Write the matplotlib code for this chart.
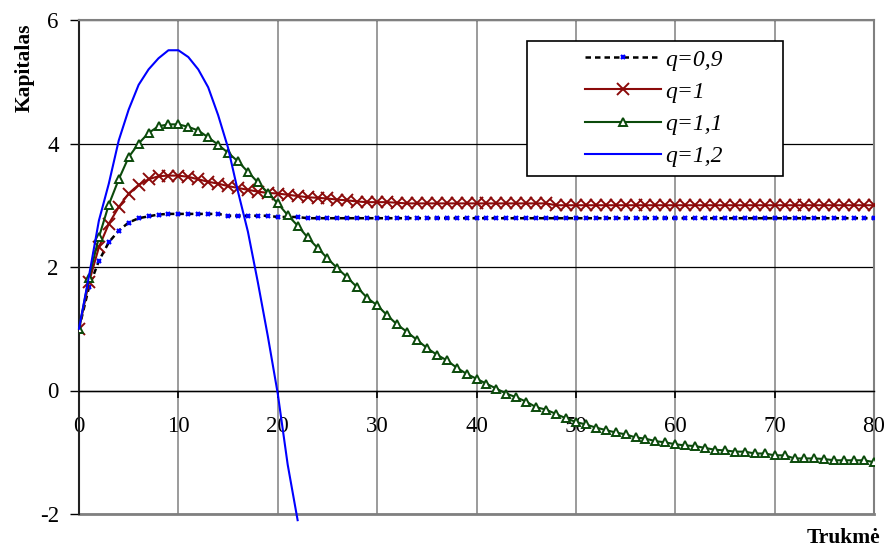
import numpy as np
import matplotlib.pyplot as plt
from matplotlib.patches import Rectangle

plt.rcParams['font.family'] = ['Liberation Serif', 'DejaVu Serif']
plt.rcParams['axes.unicode_minus'] = False

# Series (x = 0, 1, 2, ...)
q09 = [1.0, 1.67, 2.1, 2.4, 2.59, 2.72, 2.79, 2.82, 2.85, 2.86,
       2.86, 2.86, 2.86, 2.86, 2.86, 2.83, 2.83, 2.83, 2.83, 2.83,
       2.81, 2.81, 2.81, 2.79, 2.79, 2.79, 2.79, 2.79, 2.79, 2.79,
       2.79, 2.79, 2.79, 2.79, 2.79, 2.79, 2.79, 2.79, 2.79, 2.79,
       2.79, 2.79, 2.79, 2.79, 2.79, 2.79, 2.79, 2.79, 2.79, 2.79,
       2.79, 2.79, 2.79, 2.79, 2.79, 2.79, 2.79, 2.79, 2.79, 2.79,
       2.79, 2.79, 2.79, 2.79, 2.79, 2.79, 2.79, 2.79, 2.79, 2.79,
       2.79, 2.79, 2.79, 2.79, 2.79, 2.79, 2.79, 2.79, 2.79, 2.79,
       2.79]
q10 = [1.0, 1.75, 2.32, 2.7, 2.97, 3.19, 3.33, 3.42, 3.47, 3.48,
       3.48, 3.46, 3.42, 3.38, 3.35, 3.31, 3.28, 3.25, 3.22, 3.2,
       3.19, 3.17, 3.15, 3.13, 3.12, 3.11, 3.09, 3.08, 3.06, 3.05,
       3.05, 3.05, 3.04, 3.03, 3.03, 3.03, 3.03, 3.03, 3.03, 3.03,
       3.03, 3.03, 3.03, 3.03, 3.03, 3.03, 3.03, 3.03, 3.0, 3.0,
       3.0, 3.0, 3.0, 3.0, 3.0, 3.0, 3.0, 3.0, 3.0, 3.0,
       3.0, 3.0, 3.0, 3.0, 3.0, 3.0, 3.0, 3.0, 3.0, 3.0,
       3.0, 3.0, 3.0, 3.0, 3.0, 3.0, 3.0, 3.0, 3.0, 3.0,
       3.0]
q11 = [1.0, 1.82, 2.48, 3.01, 3.42, 3.78, 4.0, 4.17, 4.28, 4.31,
       4.31, 4.27, 4.21, 4.1, 3.98, 3.85, 3.71, 3.54, 3.37, 3.2,
       3.03, 2.84, 2.67, 2.48, 2.31, 2.14, 1.98, 1.83, 1.67, 1.5,
       1.38, 1.22, 1.07, 0.95, 0.82, 0.69, 0.58, 0.49, 0.37, 0.27,
       0.19, 0.11, 0.03, -0.05, -0.11, -0.18, -0.27, -0.31, -0.38, -0.45,
       -0.51, -0.55, -0.6, -0.64, -0.68, -0.71, -0.76, -0.78, -0.82, -0.84,
       -0.87, -0.89, -0.9, -0.93, -0.96, -0.97, -0.99, -0.99, -1.02, -1.02,
       -1.05, -1.05, -1.1, -1.1, -1.1, -1.11, -1.13, -1.13, -1.13, -1.13,
       -1.16]
q12 = [1.0, 1.85, 2.75, 3.35, 4.05, 4.55, 4.95, 5.2, 5.38, 5.51,
       5.51, 5.4, 5.2, 4.91, 4.46, 3.93, 3.22, 2.57, 1.75, 0.88,
       -0.05, -1.2, -2.1]

labels = ['q=0,9', 'q=1', 'q=1,1', 'q=1,2']
t_long = np.arange(len(q09))
t_short = np.arange(len(q12))

fig = plt.figure(figsize=(8.87, 5.49), dpi=100)
ax = fig.add_axes([79/887, 1 - 514/549, 795/887, 494/549])

ax.plot(t_long, q09, color='black', linestyle=(0, (2.2, 1.6)), linewidth=1.8,
        marker='x', markersize=3.5, markeredgewidth=1.6,
        markeredgecolor='#0000FF', label=labels[0], zorder=3)
ax.plot(t_long, q10, color='#8B0A0A', linewidth=1.5,
        marker='x', markersize=8, markeredgewidth=1.4, label=labels[1], zorder=3)
ax.plot(t_long, q11, color='#0B4A0B', linewidth=1.5,
        marker='^', markersize=6, markeredgewidth=1.4,
        markerfacecolor='white', label=labels[2], zorder=3)
ax.plot(t_short, q12, color='#0000FF', linewidth=1.5, label=labels[3],
        zorder=3, clip_on=False)

ax.set_xlim(0, 80)
ax.set_ylim(-2, 6)
ax.set_xticks(np.arange(0, 81, 10))
ax.set_yticks(np.arange(-2, 7, 2))

ax.grid(axis='x', color='#808080', linewidth=1.1)
ax.grid(axis='y', color='black', linewidth=0.9)
ax.set_axisbelow(True)

ax.spines['bottom'].set_position(('data', 0))
ax.spines['bottom'].set_color('black')
ax.spines['bottom'].set_linewidth(1.0)
ax.spines['left'].set_color('#222222')
ax.spines['left'].set_linewidth(1.5)
for s in ['top', 'right']:
    ax.spines[s].set_color('#808080')
    ax.spines[s].set_linewidth(1.5)
ax.axhline(-2, color='#808080', linewidth=2.0, clip_on=False, zorder=1)

ax.tick_params(axis='x', direction='out', length=5, width=1.2, pad=13,
               labelsize=16.5)
ax.tick_params(axis='y', direction='out', length=6.5, width=1.0, pad=8,
               labelsize=16.5)

# legend box
ax.add_patch(Rectangle((527/887, 1 - 176/549), 256/887, 135/549,
                       transform=fig.transFigure, facecolor='white',
                       edgecolor='black', linewidth=1.2, zorder=4,
                       clip_on=False))
leg = ax.legend(loc='upper left', bbox_to_anchor=(585/887, 1 - 49/549),
                bbox_transform=fig.transFigure, frameon=False, borderpad=0,
                borderaxespad=0, handlelength=3.2, handletextpad=0.2,
                labelspacing=0.45, prop={'family': 'Liberation Serif',
                                         'style': 'italic', 'size': 17})
leg.set_zorder(5)

fig.text(25/887, 1 - 68/549, 'Kapitalas', rotation=90, ha='center',
         va='center', fontsize=15.5, fontweight='bold')
fig.text(843/887, 1 - 538/549, 'Trukmė', ha='center', va='center',
         fontsize=15.5, fontweight='bold')

fig.savefig('out.png', dpi=100)
